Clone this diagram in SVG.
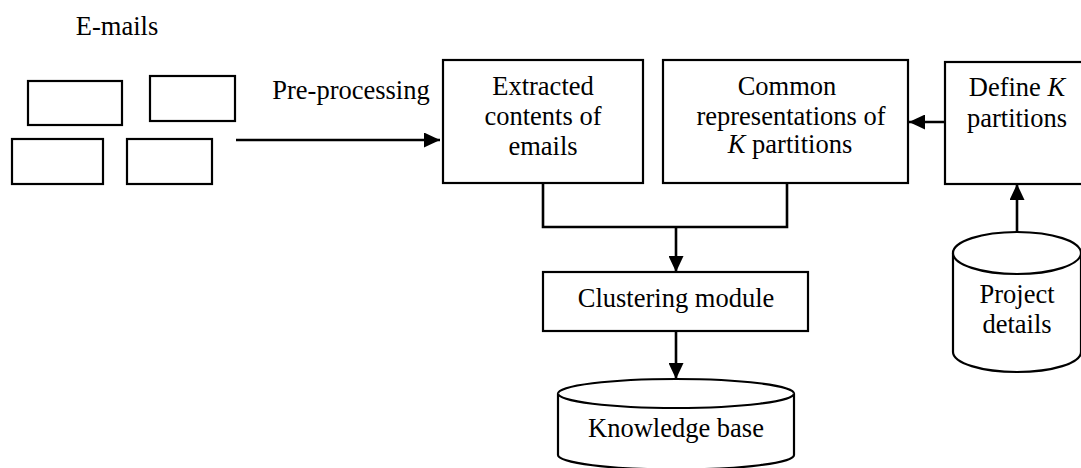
<svg xmlns="http://www.w3.org/2000/svg" width="1081" height="468" viewBox="0 0 1081 468">
<style>
text{font-family:"Liberation Serif","Times New Roman",serif;font-size:26.5px;fill:#000;text-anchor:middle}
.b{fill:#fff;stroke:#000;stroke-width:2.2}
.c{fill:none;stroke:#000;stroke-width:2.6}
</style>
<defs>
<marker id="ah" markerWidth="16" markerHeight="15" refX="16" refY="7.5" orient="auto" markerUnits="userSpaceOnUse">
<path d="M0,0 L16,7.5 L0,15 Z" fill="#000"/>
</marker>
</defs>
<rect width="1081" height="468" fill="#fff"/>
<g id="emails">
<text x="117" y="35">E-mails</text>
<rect class="b" x="28" y="81" width="94" height="44"/>
<rect class="b" x="150" y="76" width="85" height="45"/>
<rect class="b" x="12" y="139" width="91" height="45"/>
<rect class="b" x="127" y="139" width="85" height="45"/>
</g>
<g id="preprocessing-label">
<text x="351" y="99">Pre-processing</text>
</g>
<g id="extracted">
<rect class="b" x="443" y="60" width="200" height="123"/>
<text x="543" y="95">Extracted</text>
<text x="543" y="125">contents of</text>
<text x="543" y="155">emails</text>
</g>
<g id="common">
<rect class="b" x="663" y="60" width="245" height="123"/>
<text x="787" y="95">Common</text>
<text x="791" y="125">representations of</text>
<text x="790" y="153"><tspan font-style="italic">K</tspan> partitions</text>
</g>
<g id="define">
<rect class="b" x="945" y="62" width="140" height="122"/>
<text x="1017" y="96">Define <tspan font-style="italic">K</tspan></text>
<text x="1017" y="127">partitions</text>
</g>
<g id="project">
<path class="b" d="M953,253 L953,352 A64,20 0 0 0 1081,352 L1081,253 A64,21 0 0 0 953,253 Z"/>
<path class="b" fill="none" d="M953,253 A64,21 0 0 0 1081,253"/>
<text x="1017" y="303">Project</text>
<text x="1017" y="333">details</text>
</g>
<g id="clustering">
<rect class="b" x="543" y="272" width="265" height="59"/>
<text x="676" y="307">Clustering module</text>
</g>
<g id="knowledge">
<path class="b" d="M558,393.5 L558,455 A118,14.5 0 0 0 794,455 L794,393.5 A118,14.5 0 0 0 558,393.5 Z"/>
<path class="b" fill="none" d="M558,393.5 A118,14.5 0 0 0 794,393.5"/>
<text x="676" y="437">Knowledge base</text>
</g>
<g id="connectors">
<line class="c" x1="236" y1="140" x2="440" y2="140" marker-end="url(#ah)"/>
<line class="c" x1="945" y1="122" x2="909" y2="122" marker-end="url(#ah)"/>
<line class="c" x1="1017" y1="232" x2="1017" y2="184" marker-end="url(#ah)"/>
<path class="c" d="M543,183 L543,227 L787,227 L787,183"/>
<line class="c" x1="676" y1="227" x2="676" y2="272" marker-end="url(#ah)"/>
<line class="c" x1="676" y1="331" x2="676" y2="379" marker-end="url(#ah)"/>
</g>
</svg>
